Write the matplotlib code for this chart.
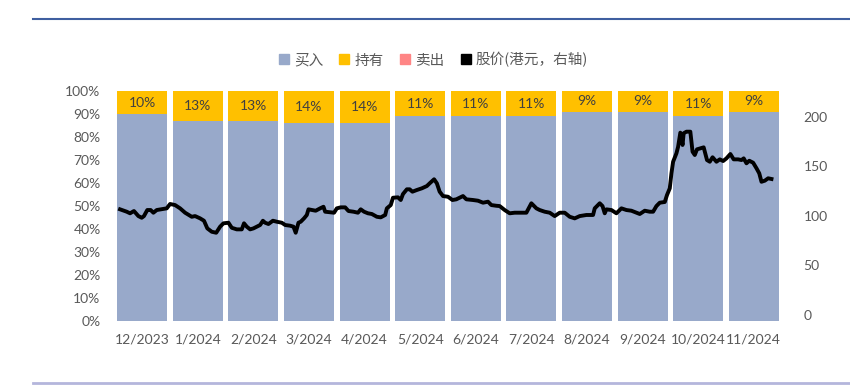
import matplotlib.pyplot as plt
from matplotlib.lines import Line2D

months = ["12/2023", "1/2024", "2/2024", "3/2024", "4/2024", "5/2024",
          "6/2024", "7/2024", "8/2024", "9/2024", "10/2024", "11/2024"]
buy = [90, 87, 87, 86, 86, 89, 89, 89, 91, 91, 89, 91]
hold = [10, 13, 13, 14, 14, 11, 11, 11, 9, 9, 11, 9]
sell = [0] * 12

# share price, x in months since 2023-12-01
price_t = [0.10, 0.22, 0.28, 0.35, 0.43, 0.49, 0.53, 0.59, 0.65, 0.70, 0.76, 0.94,
           1.00, 1.09, 1.18, 1.27, 1.39, 1.45, 1.54, 1.61, 1.67, 1.75, 1.83, 1.90,
           1.96, 2.05, 2.11, 2.20, 2.29, 2.33, 2.38, 2.44, 2.50, 2.56, 2.62, 2.67,
           2.71, 2.77, 2.85, 2.92, 3.01, 3.07, 3.16, 3.22, 3.26, 3.31, 3.35, 3.41,
           3.46, 3.49, 3.56, 3.62, 3.70, 3.76, 3.79, 3.88, 3.95, 4.00, 4.07, 4.15,
           4.21, 4.30, 4.38, 4.43, 4.49, 4.56, 4.63, 4.72, 4.79, 4.87, 4.90, 4.97,
           5.01, 5.10, 5.15, 5.19, 5.26, 5.31, 5.36, 5.44, 5.53, 5.62, 5.67, 5.75,
           5.80, 5.85, 5.91, 6.00, 6.08, 6.15, 6.27, 6.33, 6.45, 6.54, 6.63, 6.72,
           6.78, 6.87, 6.93, 7.02, 7.11, 7.20, 7.29, 7.41, 7.50, 7.59, 7.65, 7.74,
           7.83, 7.92, 8.01, 8.10, 8.19, 8.28, 8.37, 8.49, 8.61, 8.64, 8.73, 8.78,
           8.82, 8.85, 8.94, 9.03, 9.12, 9.21, 9.30, 9.39, 9.45, 9.54, 9.63, 9.69,
           9.75, 9.81, 9.90, 9.94, 9.99, 10.02, 10.05, 10.11, 10.14, 10.18, 10.22,
           10.24, 10.29, 10.36, 10.40, 10.44, 10.48, 10.60, 10.66, 10.71, 10.76,
           10.83, 10.89, 10.95, 11.01, 11.08, 11.14, 11.22, 11.28, 11.32, 11.37,
           11.42, 11.49, 11.55, 11.60, 11.64, 11.70, 11.76, 11.82]
price = [106.6, 104.2, 102.6, 104.9, 99.8, 98.1, 99.8, 105.9, 105.9, 103.2, 105.9, 107.6,
         112.0, 110.9, 107.6, 103.2, 99.1, 99.8, 97.5, 95.1, 87.4, 84.0, 83.0, 89.1,
         92.5, 93.1, 88.0, 86.4, 86.4, 92.5, 89.1, 86.4, 87.4, 89.1, 90.8, 95.1,
         93.1, 91.8, 95.1, 94.1, 93.1, 90.8, 90.1, 89.1, 83.0, 93.1, 94.1, 97.5,
         100.9, 106.6, 105.9, 105.2, 107.6, 109.2, 104.2, 103.6, 103.2, 107.6, 108.6, 108.6,
         104.9, 104.2, 103.2, 106.6, 104.2, 102.6, 101.9, 99.1, 98.5, 100.9, 107.6, 110.9,
         118.3, 118.7, 116.0, 122.0, 126.8, 126.8, 124.4, 126.1, 127.8, 130.1, 132.8, 136.9,
         132.8, 124.4, 120.0, 119.3, 116.0, 116.7, 120.0, 116.7, 116.0, 115.3, 113.3, 114.3,
         110.9, 110.2, 109.9, 105.9, 102.6, 103.2, 103.2, 103.2, 112.7, 107.6, 105.9, 104.2,
         103.2, 99.8, 103.2, 103.2, 99.1, 97.5, 99.8, 100.9, 100.9, 107.6, 112.7, 109.9,
         102.6, 106.6, 105.9, 102.6, 107.6, 105.9, 105.2, 103.2, 101.9, 105.2, 104.2, 104.2,
         109.9, 113.3, 114.0, 121.0, 127.8, 142.9, 154.6, 163.1, 169.7, 183.9, 171.5,
         183.3, 184.9, 184.9, 164.7, 161.4, 167.1, 169.1, 156.3, 154.6, 159.1,
         154.6, 157.0, 155.3, 158.0, 162.4, 157.0, 157.0, 156.3, 158.0, 153.0,
         155.6, 153.6, 148.0, 142.9, 134.4, 135.5, 137.9, 137.2]

c_buy = "#98A9CA"
c_hold = "#FFC000"
c_sell = "#FF8585"
c_text = "#595959"

fig = plt.figure(figsize=(8.5, 3.87), dpi=100)
ax = fig.add_axes([0.1347, 0.1713, 0.7847, 0.5935])

x = list(range(len(months)))
ax.bar(x, buy, width=0.9, color=c_buy)
ax.bar(x, hold, width=0.9, bottom=buy, color=c_hold)
ax.bar(x, sell, width=0.9, bottom=[b + h for b, h in zip(buy, hold)], color=c_sell)
for i in x:
    ax.text(i, buy[i] + hold[i] / 2, f"{hold[i]}%", ha="center", va="center",
            fontsize=10, color="#404040", family="Lato")

ax.set_xlim(-0.5, 11.5)
ax.set_ylim(0, 100)
ax.set_yticks(range(0, 101, 10))
ax.set_yticklabels([f"{v}%" for v in range(0, 101, 10)])
ax.set_xticks(x)
ax.set_xticklabels(months)
ax.tick_params(axis="y", length=0, pad=10, labelsize=10, labelcolor=c_text)
ax.tick_params(axis="x", length=0, pad=9, labelsize=10, labelcolor=c_text)
for s in ax.spines.values():
    s.set_visible(False)

ax2 = ax.twinx()
ax2.plot([t - 0.5 for t in price_t], price, color="black", lw=2.8, solid_joinstyle="round")
ax2.set_ylim(-5.7, 225.9)
ax2.set_yticks(range(0, 201, 50))
ax2.tick_params(axis="y", length=0, pad=16, labelsize=10, labelcolor=c_text)
for s in ax2.spines.values():
    s.set_visible(False)

for a in (ax, ax2):
    for lab in a.get_xticklabels() + a.get_yticklabels():
        lab.set_family("Lato")

handles = [Line2D([], [], marker="s", ls="none", color=c, markersize=6.5)
           for c in (c_buy, c_hold, c_sell, "black")]
fig.legend(handles, ["买入", "持有", "卖出", "股价(港元，右轴)"], loc="center",
           bbox_to_anchor=(0.51, 0.845), ncol=4, frameon=False, handlelength=0.7,
           handletextpad=0.35, columnspacing=1.1,
           prop={"family": ["Noto Sans CJK SC", "DejaVu Sans"], "size": 10.5},
           labelcolor=c_text)

fig.add_artist(Line2D([33 / 850, 1], [1 - 18.5 / 387] * 2, color="#3F5FA0", lw=1.5))
fig.add_artist(Line2D([33 / 850, 1], [1 - 382.7 / 387] * 2, color="#B4B6DC", lw=2))

fig.savefig("out.png", dpi=100)
